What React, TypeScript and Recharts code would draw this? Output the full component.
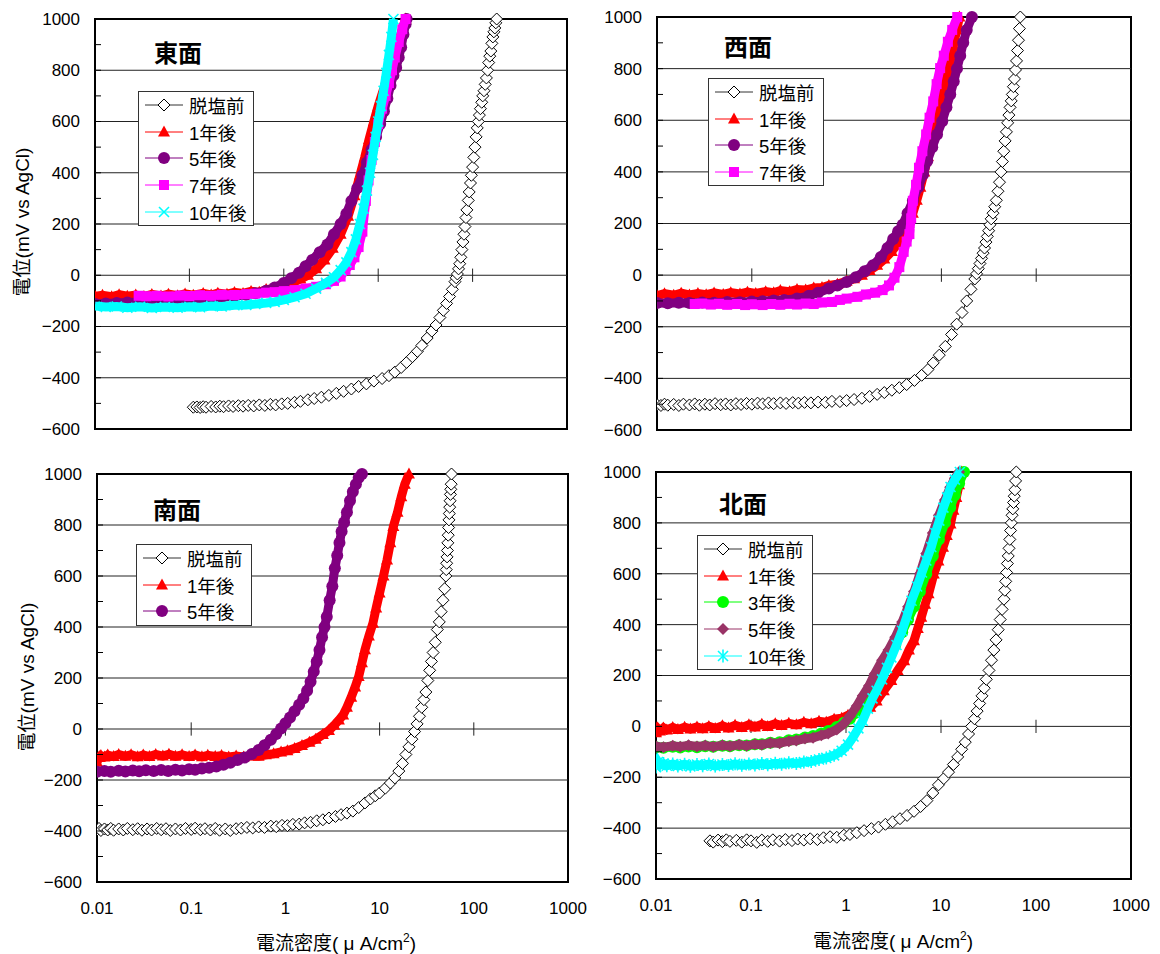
import React from "react";
import {
  ScatterChart,
  Scatter,
  XAxis,
  YAxis,
  ReferenceLine,
  ReferenceArea,
  Legend,
} from "recharts";

type Pt = [number, number];

// 東面
const eastBefore: Pt[] = [
  [0.11, -515], [0.12, -514], [0.13, -516], [0.14, -513], [0.15, -515], [0.17, -512], [0.19, -514],
  [0.21, -511], [0.23, -513], [0.26, -510], [0.29, -512], [0.33, -509], [0.37, -511], [0.42, -508],
  [0.48, -510], [0.55, -506], [0.63, -508], [0.72, -504], [0.82, -506], [0.95, -502], [1.1, -500],
  [1.3, -496], [1.5, -492], [1.8, -486], [2.1, -481], [2.5, -476], [3.0, -469], [3.6, -461],
  [4.3, -453], [5.2, -444], [6.2, -434], [7.5, -424], [9, -413], [11, -403], [13, -392], [15, -378],
  [17.5, -360], [20, -340], [23, -318], [26, -297], [29, -274], [33, -245], [37, -218], [41, -194],
  [45, -165], [49, -137], [53, -110], [57, -83], [61, -55], [65, -25], [67, -10], [69, 5], [71, 25],
  [73, 45], [75, 70], [77, 100], [79, 130], [81, 160], [83, 190], [85, 225], [87, 255], [90, 292],
  [92, 325], [95, 360], [97, 390], [100, 422], [103, 460], [106, 500], [109, 540], [112, 575],
  [115, 600], [118, 625], [121, 650], [125, 675], [128, 700], [132, 720], [136, 745], [140, 770],
  [144, 800], [148, 830], [152, 855], [156, 875], [160, 905], [164, 930], [168, 950], [172, 965],
  [176, 985], [180, 1000],
];
const east1y: Pt[] = [
  [0.01, -82], [0.012, -78], [0.015, -84], [0.018, -76], [0.022, -82], [0.027, -77], [0.033, -83],
  [0.04, -75], [0.05, -81], [0.06, -74], [0.075, -80], [0.09, -73], [0.11, -78], [0.14, -71],
  [0.17, -77], [0.2, -70], [0.25, -74], [0.3, -67], [0.37, -71], [0.45, -63], [0.55, -66],
  [0.65, -56], [0.8, -52], [1.0, -38], [1.2, -30], [1.5, -15], [1.8, 0], [2.2, 25], [2.7, 60],
  [3.3, 105], [4, 160], [4.8, 230], [5.6, 310], [6.4, 390], [7.2, 460], [8, 530], [9, 600],
  [10, 660], [11.5, 730], [13, 800], [15, 870], [17, 930], [19.5, 1000],
];
const east5y: Pt[] = [
  [0.01, -112], [0.013, -110], [0.017, -108], [0.022, -106], [0.03, -104], [0.04, -102],
  [0.055, -100], [0.075, -98], [0.1, -95], [0.13, -92], [0.17, -90], [0.22, -86], [0.3, -82],
  [0.4, -76], [0.5, -70], [0.65, -60], [0.8, -48], [1.0, -30], [1.2, -12], [1.45, 10], [1.7, 35],
  [2.0, 60], [2.4, 90], [2.9, 120], [3.4, 160], [4.0, 200], [4.6, 240], [5.2, 290], [6.0, 340],
  [6.8, 390], [7.6, 440], [8.5, 490], [9.5, 540], [10.5, 590], [11.5, 640], [12.5, 690],
  [13.5, 740], [14.5, 780], [15.5, 810], [16.5, 850], [17.5, 890], [18.5, 940], [19.5, 980],
  [20, 1000],
];
const east7y: Pt[] = [
  [0.029, -80], [0.035, -82], [0.045, -80], [0.06, -83], [0.08, -79], [0.1, -81], [0.13, -78],
  [0.17, -80], [0.22, -76], [0.3, -77], [0.4, -74], [0.5, -72], [0.65, -68], [0.8, -66], [1.0, -62],
  [1.3, -58], [1.7, -52], [2.2, -45], [2.8, -35], [3.4, -22], [4.0, -5], [4.5, 20], [5.0, 40],
  [5.6, 70], [6.2, 110], [6.8, 170], [7.4, 290], [7.9, 370], [8.5, 450], [9.2, 520], [10, 590],
  [11, 650], [12, 700], [13, 750], [14, 800], [15, 850], [16.5, 910], [18, 960], [19.5, 1000],
];
const east10y: Pt[] = [
  [0.01, -120], [0.013, -124], [0.017, -122], [0.022, -127], [0.03, -123], [0.04, -128],
  [0.055, -124], [0.075, -127], [0.1, -123], [0.13, -125], [0.17, -120], [0.22, -122], [0.3, -117],
  [0.4, -116], [0.5, -112], [0.65, -108], [0.8, -104], [1.0, -96], [1.3, -86], [1.7, -72],
  [2.2, -52], [2.8, -30], [3.4, -8], [4.0, 20], [4.6, 50], [5.2, 90], [5.8, 140], [6.4, 200],
  [7.0, 260], [7.6, 330], [8.2, 400], [8.8, 470], [9.4, 540], [10, 600], [10.7, 660], [11.4, 720],
  [12.2, 790], [13, 860], [13.8, 930], [14.5, 1000],
];

// 西面
const westBefore: Pt[] = [
  [0.01, -502], [0.011, -505], [0.012, -500], [0.013, -504], [0.015, -501], [0.017, -505],
  [0.019, -500], [0.022, -503], [0.025, -499], [0.028, -504], [0.032, -500], [0.036, -503],
  [0.041, -498], [0.047, -502], [0.053, -499], [0.06, -503], [0.068, -498], [0.077, -501],
  [0.088, -497], [0.1, -500], [0.115, -496], [0.13, -499], [0.15, -495], [0.17, -498], [0.2, -495],
  [0.23, -497], [0.27, -494], [0.31, -496], [0.36, -493], [0.42, -495], [0.5, -492], [0.6, -493],
  [0.7, -489], [0.85, -490], [1.0, -486], [1.2, -482], [1.45, -477], [1.75, -470], [2.1, -462],
  [2.5, -455], [3.0, -446], [3.6, -436], [4.3, -424], [5.2, -408], [6.2, -388], [7.2, -366],
  [8.2, -340], [9.5, -310], [11, -276], [12.8, -230], [14.5, -190], [16.5, -145], [18.5, -100],
  [20.5, -55], [22.5, -15], [23.5, 5], [24.5, 25], [25.5, 45], [26.5, 65], [27.5, 85], [28.5, 105],
  [29.5, 128], [30.5, 150], [31.5, 172], [32.5, 195], [33.5, 218], [35, 240], [36.5, 265],
  [38, 290], [39.5, 325], [41, 360], [42.5, 400], [44, 440], [45.5, 480], [47, 520], [48.5, 555],
  [50, 590], [51.5, 620], [53, 650], [54.5, 675], [56, 700], [57.5, 730], [59, 760], [60.5, 795],
  [62, 830], [63.5, 870], [65, 910], [66.5, 955], [68, 1000],
];
const west1y: Pt[] = [
  [0.01, -80], [0.012, -72], [0.015, -78], [0.018, -70], [0.022, -77], [0.027, -71], [0.033, -76],
  [0.04, -69], [0.05, -75], [0.06, -68], [0.075, -73], [0.09, -66], [0.11, -71], [0.14, -64],
  [0.17, -68], [0.2, -60], [0.25, -64], [0.3, -56], [0.37, -58], [0.45, -50], [0.55, -48],
  [0.65, -40], [0.8, -35], [1.0, -24], [1.2, -14], [1.45, 0], [1.75, 18], [2.1, 38], [2.5, 62],
  [3.0, 92], [3.5, 125], [4.0, 160], [4.5, 200], [5.0, 240], [5.5, 290], [6.0, 340], [6.6, 400],
  [7.2, 460], [7.9, 520], [8.7, 590], [9.5, 650], [10.4, 710], [11.4, 770], [12.4, 830],
  [13.4, 890], [14.5, 950], [15.5, 1000],
];
const west5y: Pt[] = [
  [0.01, -108], [0.013, -109], [0.017, -107], [0.022, -108], [0.03, -106], [0.04, -107],
  [0.055, -104], [0.075, -105], [0.1, -102], [0.13, -101], [0.17, -98], [0.22, -96], [0.3, -91],
  [0.4, -80], [0.5, -68], [0.65, -52], [0.8, -40], [1.0, -27], [1.25, -8], [1.55, 15], [1.9, 38],
  [2.3, 70], [2.7, 105], [3.1, 140], [3.5, 170], [3.9, 195], [4.4, 240], [5.0, 288], [5.7, 340],
  [6.4, 390], [7.1, 442], [8.0, 495], [9.0, 545], [10.2, 596], [11.3, 650], [12.4, 700],
  [13.5, 750], [14.6, 800], [15.8, 850], [17.0, 900], [18.5, 950], [21, 1000],
];
const west7y: Pt[] = [
  [0.025, -112], [0.03, -110], [0.037, -114], [0.045, -111], [0.055, -115], [0.07, -112],
  [0.085, -116], [0.1, -113], [0.13, -116], [0.16, -112], [0.2, -115], [0.25, -111], [0.3, -114],
  [0.37, -110], [0.45, -112], [0.55, -106], [0.7, -104], [0.85, -96], [1.0, -91], [1.3, -84],
  [1.6, -75], [2.0, -68], [2.4, -58], [2.8, -40], [3.2, -10], [3.6, 31], [4.0, 90], [4.3, 130],
  [4.6, 159], [4.8, 220], [5.0, 288], [5.4, 350], [5.8, 416], [6.3, 480], [6.9, 545], [7.5, 610],
  [8.2, 673], [8.9, 740], [9.7, 802], [10.6, 850], [11.7, 904], [13, 950], [14.7, 1000],
];

// 南面
const southBefore: Pt[] = [
  [0.01, -396], [0.0105, -390], [0.011, -398], [0.012, -392], [0.013, -396], [0.014, -390],
  [0.015, -397], [0.017, -392], [0.019, -396], [0.021, -390], [0.024, -395], [0.027, -391],
  [0.03, -397], [0.034, -392], [0.038, -396], [0.043, -390], [0.048, -395], [0.054, -391],
  [0.06, -398], [0.068, -392], [0.077, -396], [0.087, -390], [0.1, -394], [0.11, -389],
  [0.125, -395], [0.14, -391], [0.16, -396], [0.18, -390], [0.2, -397], [0.23, -392], [0.26, -398],
  [0.3, -391], [0.34, -389], [0.39, -386], [0.45, -388], [0.52, -384], [0.6, -386], [0.7, -381],
  [0.8, -383], [0.92, -378], [1.05, -379], [1.2, -374], [1.4, -373], [1.6, -368], [1.85, -366],
  [2.15, -360], [2.5, -356], [2.9, -349], [3.4, -343], [3.9, -336], [4.5, -330], [5.2, -322],
  [6, -308], [7, -290], [8, -274], [9, -262], [10, -251], [11.5, -232], [13, -212], [14.5, -192],
  [16, -165], [17.5, -135], [19, -100], [20.5, -70], [22, -40], [23.5, -10], [25, 20], [26.5, 50],
  [28, 85], [29.5, 115], [31, 145], [32.5, 190], [34, 230], [35.5, 265], [37, 300], [39, 340],
  [41, 390], [43, 420], [45, 460], [47, 505], [49, 550], [50.5, 600], [51, 625], [51.5, 650],
  [52, 675], [52.5, 700], [53, 730], [53.5, 760], [54, 790], [54.5, 820], [55, 845], [55.5, 870],
  [56, 895], [56.5, 920], [57, 940], [57.5, 960], [58, 1000],
];
const south1y: Pt[] = [
  [0.01, -130], [0.0105, -112], [0.011, -104], [0.012, -110], [0.013, -102], [0.015, -108],
  [0.017, -100], [0.02, -107], [0.023, -101], [0.027, -109], [0.031, -102], [0.036, -108],
  [0.042, -100], [0.05, -106], [0.058, -99], [0.068, -107], [0.08, -101], [0.095, -108],
  [0.11, -102], [0.13, -109], [0.15, -103], [0.18, -108], [0.21, -104], [0.25, -110], [0.3, -106],
  [0.36, -110], [0.43, -105], [0.52, -107], [0.62, -101], [0.75, -97], [0.9, -90], [1.05, -85],
  [1.25, -76], [1.5, -65], [1.8, -52], [2.1, -40], [2.5, -22], [2.9, -6], [3.3, 15], [3.7, 35],
  [4.1, 55], [4.5, 85], [5.0, 125], [5.5, 165], [6.0, 206], [6.5, 260], [7.0, 311], [7.7, 365],
  [8.5, 415], [9.2, 475], [10, 533], [11, 600], [12, 663], [13, 730], [14, 794], [15.5, 850],
  [17, 911], [18.5, 960], [20.5, 1000],
];
const south5y: Pt[] = [
  [0.01, -168], [0.012, -165], [0.014, -168], [0.017, -164], [0.02, -167], [0.024, -163],
  [0.028, -166], [0.033, -162], [0.04, -165], [0.048, -161], [0.057, -165], [0.068, -160],
  [0.08, -163], [0.095, -158], [0.11, -160], [0.13, -155], [0.155, -152], [0.185, -147],
  [0.22, -140], [0.26, -132], [0.31, -122], [0.37, -112], [0.44, -98], [0.52, -82], [0.6, -64],
  [0.7, -42], [0.8, -20], [0.9, 2], [1.0, 23], [1.12, 45], [1.25, 70], [1.4, 95], [1.55, 120],
  [1.7, 150], [1.85, 185], [2.0, 225], [2.15, 265], [2.3, 310], [2.45, 360], [2.6, 400],
  [2.75, 440], [2.95, 505], [3.15, 560], [3.35, 630], [3.55, 680], [3.75, 730], [3.95, 775],
  [4.2, 810], [4.5, 850], [4.85, 895], [5.2, 930], [5.6, 960], [6.0, 985], [6.5, 1000],
];

// 北面
const northBefore: Pt[] = [
  [0.037, -450], [0.04, -455], [0.045, -447], [0.05, -453], [0.055, -446], [0.06, -452],
  [0.07, -448], [0.08, -455], [0.09, -446], [0.1, -450], [0.115, -456], [0.13, -447], [0.15, -452],
  [0.17, -446], [0.2, -451], [0.23, -445], [0.27, -449], [0.31, -443], [0.36, -447], [0.42, -442],
  [0.5, -445], [0.58, -438], [0.68, -434], [0.8, -436], [0.95, -428], [1.1, -425], [1.3, -418],
  [1.55, -410], [1.85, -402], [2.2, -396], [2.6, -385], [3.1, -375], [3.7, -363], [4.4, -350],
  [5.2, -334], [6.1, -315], [7.1, -292], [8.2, -262], [9.4, -230], [10.7, -205], [12, -180],
  [13.5, -150], [15, -120], [16.5, -90], [18, -62], [19.5, -30], [21, 0], [22.5, 30], [24, 60],
  [25.5, 90], [27, 120], [28.5, 150], [30, 185], [32, 220], [34, 260], [36, 300], [38, 340],
  [40, 380], [42, 420], [44, 460], [46, 500], [47, 535], [48, 570], [49, 605], [50, 640],
  [51, 670], [52, 700], [53, 735], [54, 770], [55, 800], [56, 830], [57, 855], [58, 880],
  [59, 905], [60, 930], [61, 965], [62, 1000],
];
const north1y: Pt[] = [
  [0.01, -25], [0.0105, -10], [0.011, -18], [0.012, -6], [0.013, -14], [0.015, -4], [0.017, -12],
  [0.02, -3], [0.023, -10], [0.027, -2], [0.031, -9], [0.036, 0], [0.042, -8], [0.05, 2],
  [0.058, -6], [0.068, 4], [0.08, -4], [0.095, 6], [0.11, -2], [0.13, 8], [0.15, 0], [0.18, 10],
  [0.21, 3], [0.25, 12], [0.3, 6], [0.36, 16], [0.43, 10], [0.52, 20], [0.62, 16], [0.75, 28],
  [0.9, 32], [1.05, 44], [1.25, 52], [1.5, 64], [1.8, 75], [2.1, 100], [2.5, 140], [3.0, 180],
  [3.5, 220], [4.1, 258], [4.6, 300], [5.2, 337], [5.7, 385], [6.2, 429], [6.8, 480], [7.4, 521],
  [8.4, 599], [9.4, 650], [10.5, 704], [11.5, 750], [12.6, 796], [13.5, 850], [14.5, 900],
  [15.5, 950], [16.5, 1000],
];
const north3y: Pt[] = [
  [0.01, -82], [0.012, -84], [0.015, -80], [0.018, -83], [0.022, -79], [0.027, -82], [0.033, -78],
  [0.04, -80], [0.05, -76], [0.06, -78], [0.075, -74], [0.09, -75], [0.11, -70], [0.13, -70],
  [0.16, -64], [0.2, -62], [0.25, -55], [0.3, -52], [0.37, -44], [0.45, -38], [0.55, -28],
  [0.65, -18], [0.8, -2], [0.95, 14], [1.1, 30], [1.3, 55], [1.5, 85], [1.75, 120], [2.0, 160],
  [2.4, 215], [2.8, 265], [3.3, 320], [3.9, 370], [4.5, 420], [5.2, 470], [6, 530], [7, 599],
  [8.2, 670], [9.5, 735], [11, 800], [12.5, 860], [14, 910], [15.5, 955], [17.5, 1000],
];
const north5y: Pt[] = [
  [0.01, -78], [0.012, -82], [0.015, -76], [0.018, -80], [0.022, -74], [0.027, -79], [0.033, -75],
  [0.04, -80], [0.05, -74], [0.06, -78], [0.075, -72], [0.09, -76], [0.11, -70], [0.13, -72],
  [0.16, -65], [0.2, -66], [0.25, -58], [0.3, -56], [0.37, -48], [0.45, -45], [0.55, -35],
  [0.65, -28], [0.8, -12], [0.95, 10], [1.1, 40], [1.3, 80], [1.5, 120], [1.75, 160], [2.0, 206],
  [2.4, 260], [2.8, 300], [3.3, 350], [3.9, 410], [4.5, 470], [5.2, 530], [6, 600], [7, 680],
  [8.2, 760], [9.5, 830], [11, 890], [12.5, 940], [14, 975], [15.5, 1000],
];
const north10y: Pt[] = [
  [0.01, -160], [0.0105, -140], [0.011, -152], [0.012, -146], [0.013, -155], [0.015, -148],
  [0.017, -156], [0.02, -149], [0.023, -157], [0.027, -150], [0.031, -155], [0.036, -148],
  [0.042, -156], [0.05, -150], [0.058, -154], [0.068, -147], [0.08, -153], [0.095, -148],
  [0.11, -152], [0.13, -146], [0.15, -151], [0.18, -145], [0.21, -149], [0.25, -143], [0.3, -146],
  [0.36, -140], [0.43, -138], [0.52, -130], [0.62, -124], [0.75, -114], [0.9, -96], [1.05, -72],
  [1.2, -40], [1.35, -8], [1.5, 22], [1.7, 70], [1.9, 110], [2.1, 140], [2.4, 185], [2.7, 230],
  [3.0, 271], [3.4, 320], [3.9, 376], [4.4, 435], [4.9, 494], [5.6, 550], [6.3, 605], [7.0, 652],
  [7.9, 705], [8.7, 760], [9.6, 809], [10.6, 860], [11.6, 900], [12.6, 941], [14, 970], [15.8, 1000],
];

const xTicks = [0.01, 0.1, 1, 10, 100, 1000];
const yTicks = [-600, -500, -400, -300, -200, -100, 0, 100, 200, 300, 400, 500, 600, 700, 800, 900, 1000];
const yGrid = [-400, -200, 0, 200, 400, 600, 800];
const crossTicks = [0.1, 1, 10, 100];

type Marker = "diamondOpen" | "triangle" | "circle" | "square" | "cross" | "star" | "diamond";

interface Series {
  name: string;
  data: Pt[];
  color: string;
  marker: Marker;
}

const BEFORE = "脱塩前";

function drawMarker(kind: Marker, color: string, cx: number, cy: number) {
  switch (kind) {
    case "diamondOpen":
      return <polygon points={`${cx},${cy - 6} ${cx + 6},${cy} ${cx},${cy + 6} ${cx - 6},${cy}`} fill="#fff" stroke="#000" strokeWidth={1} />;
    case "diamond":
      return <polygon points={`${cx},${cy - 6} ${cx + 6},${cy} ${cx},${cy + 6} ${cx - 6},${cy}`} fill={color} />;
    case "triangle":
      return <polygon points={`${cx},${cy - 6.5} ${cx + 6},${cy + 4.5} ${cx - 6},${cy + 4.5}`} fill={color} />;
    case "circle":
      return <circle cx={cx} cy={cy} r={6} fill={color} />;
    case "square":
      return <rect x={cx - 5} y={cy - 5} width={10} height={10} fill={color} />;
    case "cross":
      return (
        <g stroke={color} strokeWidth={1.6}>
          <line x1={cx - 5} y1={cy - 5} x2={cx + 5} y2={cy + 5} />
          <line x1={cx - 5} y1={cy + 5} x2={cx + 5} y2={cy - 5} />
        </g>
      );
    case "star":
      return (
        <g stroke={color} strokeWidth={1.6}>
          <line x1={cx - 5} y1={cy - 5} x2={cx + 5} y2={cy + 5} />
          <line x1={cx - 5} y1={cy + 5} x2={cx + 5} y2={cy - 5} />
          <line x1={cx} y1={cy - 6.5} x2={cx} y2={cy + 6.5} />
        </g>
      );
  }
}

const YTick = (props: any) => {
  const { x, y, payload } = props;
  const v = payload.value as number;
  return (
    <g>
      <line x1={x + 15} x2={x + 21} y1={y} y2={y} stroke="#000" />
      {v % 200 === 0 && (
        <text x={x} y={y} dy="0.35em" textAnchor="end" fontSize={17} fill="#000">
          {v < 0 ? `−${-v}` : v}
        </text>
      )}
    </g>
  );
};

const LegendBox = ({ series }: { series: Series[] }) => (
  <div style={{ background: "#fff", border: "1px solid #333", width: 116, boxSizing: "border-box" }}>
    {series.map((s) => (
      <div key={s.name} style={{ height: 26.6, display: "flex", alignItems: "center" }}>
        <svg width={50} height={26} style={{ flex: "none" }}>
          <line x1={6} x2={44} y1={13} y2={13} stroke={s.name === BEFORE ? "#333" : s.color} strokeWidth={1} />
          {drawMarker(s.marker, s.color, 25, 13)}
        </svg>
        <span style={{ fontSize: 18.5, color: "#000", whiteSpace: "nowrap" }}>{s.name}</span>
      </div>
    ))}
  </div>
);

interface PanelProps {
  left: number;
  top: number;
  width: number;
  height: number;
  axisWidth: number;
  margin: { top: number; right: number; bottom: number; left: number };
  showX: boolean;
  legendPos: { left: number; top: number };
  series: Series[];
}

function Panel({ left, top, width, height, axisWidth, margin, showX, legendPos, series }: PanelProps) {
  return (
    <div style={{ position: "absolute", left, top }}>
      <ScatterChart width={width} height={height} margin={margin}>
        <XAxis
          type="number"
          dataKey="x"
          scale="log"
          domain={[0.01, 1000]}
          allowDataOverflow
          ticks={xTicks}
          interval={0}
          hide={!showX}
          height={40}
          axisLine={false}
          tickLine={false}
          tickSize={0}
          tickMargin={20}
          tick={{ fontSize: 17, fill: "#000" }}
          tickFormatter={(v: number) => String(v)}
        />
        <YAxis
          type="number"
          dataKey="y"
          domain={[-600, 1000]}
          ticks={yTicks}
          interval={0}
          width={axisWidth}
          axisLine={false}
          tickLine={false}
          tickSize={0}
          tickMargin={15}
          tick={<YTick />}
        />
        {yGrid.map((v) => (
          <ReferenceLine key={`g${v}`} y={v} stroke="#222" strokeWidth={1} />
        ))}
        {crossTicks.map((t) => (
          <ReferenceLine
            key={`t${t}`}
            segment={[{ x: t, y: -26 }, { x: t, y: 26 }]}
            stroke="#222"
            strokeWidth={1}
          />
        ))}
        {series.map((s) => (
          <Scatter
            key={s.name}
            name={s.name}
            data={s.data.map(([x, y]) => ({ x, y }))}
            fill={s.color}
            isAnimationActive={false}
            line={{ stroke: s.name === BEFORE ? "#000" : s.color, strokeWidth: s.name === BEFORE ? 1 : 9 }}
            lineJointType="linear"
            shape={(p: any) => drawMarker(s.marker, s.color, p.cx, p.cy)}
          />
        ))}
        <ReferenceArea x1={0.01} x2={1000} y1={-600} y2={1000} fill="none" fillOpacity={0} stroke="#000" strokeWidth={2} ifOverflow="visible" />
        <Legend
          layout="vertical"
          align="center"
          verticalAlign="middle"
          wrapperStyle={{ left: legendPos.left, top: legendPos.top, width: "auto", height: "auto" }}
          content={() => <LegendBox series={series} />}
        />
      </ScatterChart>
    </div>
  );
}

const eastSeries: Series[] = [
  { name: BEFORE, data: eastBefore, color: "#000", marker: "diamondOpen" },
  { name: "1年後", data: east1y, color: "#ff0000", marker: "triangle" },
  { name: "5年後", data: east5y, color: "#800080", marker: "circle" },
  { name: "7年後", data: east7y, color: "#ff00ff", marker: "square" },
  { name: "10年後", data: east10y, color: "#00ffff", marker: "cross" },
];
const westSeries: Series[] = [
  { name: BEFORE, data: westBefore, color: "#000", marker: "diamondOpen" },
  { name: "1年後", data: west1y, color: "#ff0000", marker: "triangle" },
  { name: "5年後", data: west5y, color: "#800080", marker: "circle" },
  { name: "7年後", data: west7y, color: "#ff00ff", marker: "square" },
];
const southSeries: Series[] = [
  { name: BEFORE, data: southBefore, color: "#000", marker: "diamondOpen" },
  { name: "1年後", data: south1y, color: "#ff0000", marker: "triangle" },
  { name: "5年後", data: south5y, color: "#800080", marker: "circle" },
];
const northSeries: Series[] = [
  { name: BEFORE, data: northBefore, color: "#000", marker: "diamondOpen" },
  { name: "1年後", data: north1y, color: "#ff0000", marker: "triangle" },
  { name: "3年後", data: north3y, color: "#00ff00", marker: "circle" },
  { name: "5年後", data: north5y, color: "#993366", marker: "diamond" },
  { name: "10年後", data: north10y, color: "#00ffff", marker: "star" },
];

const titleStyle: React.CSSProperties = {
  position: "absolute",
  fontSize: 24,
  fontWeight: "bold",
  transform: "translate(-50%, -50%)",
  whiteSpace: "nowrap",
};
const yLabelStyle: React.CSSProperties = {
  position: "absolute",
  fontSize: 19,
  whiteSpace: "nowrap",
  transform: "translate(-50%, -50%) rotate(-90deg)",
};
const xLabelStyle: React.CSSProperties = {
  position: "absolute",
  fontSize: 19,
  whiteSpace: "pre",
  transform: "translate(-50%, -50%)",
};

const XLabel = ({ x, y }: { x: number; y: number }) => (
  <div style={{ ...xLabelStyle, left: x, top: y }}>
    {"電流密度( μ A/cm"}
    <sup style={{ fontSize: 12, verticalAlign: "8px", lineHeight: 0 }}>2</sup>)
  </div>
);

export default function App() {
  return (
    <div
      style={{
        position: "absolute",
        left: 0,
        top: 0,
        width: 1160,
        height: 954,
        background: "#fff",
        color: "#000",
        fontFamily: '"Liberation Sans", "Noto Sans CJK JP", sans-serif',
      }}
    >
      <Panel
        left={0} top={0} width={580} height={450} axisWidth={95}
        margin={{ top: 19, right: 13, bottom: 21, left: 0 }}
        showX={false} legendPos={{ left: 138, top: 91 }} series={eastSeries}
      />
      <Panel
        left={580} top={0} width={580} height={450} axisWidth={77}
        margin={{ top: 17, right: 29, bottom: 20, left: 0 }}
        showX={false} legendPos={{ left: 128, top: 78 }} series={westSeries}
      />
      <Panel
        left={0} top={450} width={600} height={504} axisWidth={97}
        margin={{ top: 24, right: 32, bottom: 32, left: 0 }}
        showX legendPos={{ left: 136, top: 94 }} series={southSeries}
      />
      <Panel
        left={580} top={450} width={580} height={504} axisWidth={76}
        margin={{ top: 22, right: 29, bottom: 35, left: 0 }}
        showX legendPos={{ left: 117, top: 85 }} series={northSeries}
      />

      <div style={{ ...titleStyle, left: 178, top: 51 }}>東面</div>
      <div style={{ ...titleStyle, left: 748, top: 45 }}>西面</div>
      <div style={{ ...titleStyle, left: 177, top: 508 }}>南面</div>
      <div style={{ ...titleStyle, left: 743, top: 502 }}>北面</div>

      <div style={{ ...yLabelStyle, left: 20, top: 222 }}>電位(mV vs AgCl)</div>
      <div style={{ ...yLabelStyle, left: 25, top: 677 }}>電位(mV vs AgCl)</div>

      <XLabel x={336} y={941} />
      <XLabel x={893} y={939} />
    </div>
  );
}
